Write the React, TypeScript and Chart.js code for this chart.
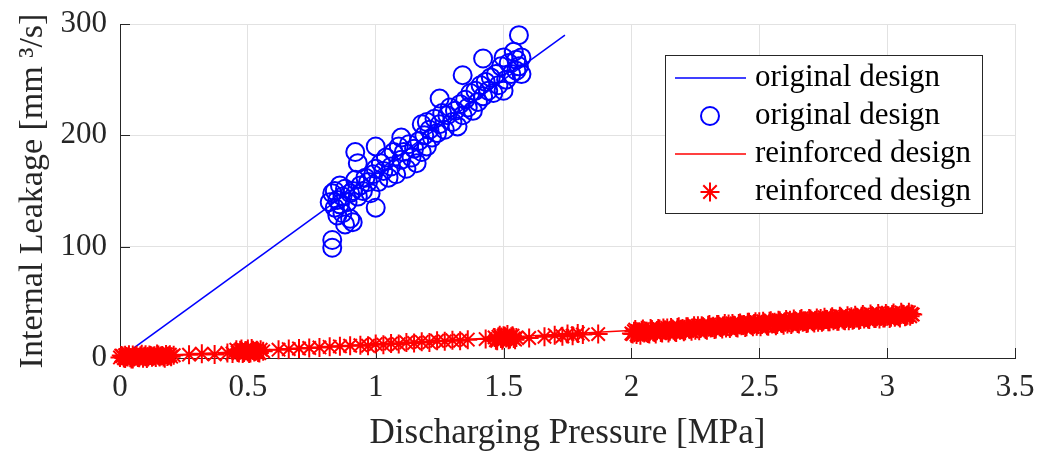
import React, { useEffect, useRef } from "react";
import { Chart, registerables } from "chart.js";
Chart.register(...registerables);

// ---------- data ----------
const xTickValues = [0, 0.5, 1, 1.5, 2, 2.5, 3, 3.5];
const yTickValues = [0, 100, 200, 300];

const legendLabels = ["original design", "original design", "reinforced design", "reinforced design"];
const xTitle = "Discharging Pressure [MPa]";
const yTitle = "Internal Leakage [mm \u00B3/s]";

const blueLineX = [0, 1.74];
const blueLineY = [0, 290];

const blueX = [
  0.82, 0.83, 0.84, 0.84, 0.85, 0.85, 0.86, 0.86, 0.87, 0.87, 0.88, 0.88, 0.89, 0.9, 0.9, 0.91, 0.91,
  0.92, 0.92, 0.93, 0.93, 0.94, 0.95, 0.96, 0.97, 0.98, 0.99, 1.0, 1.0, 1.0, 1.01, 1.02, 1.03, 1.04,
  1.05, 1.06, 1.07, 1.08, 1.09, 1.1, 1.1, 1.11, 1.12, 1.13, 1.14, 1.15, 1.16, 1.17, 1.18, 1.18, 1.19,
  1.2, 1.2, 1.21, 1.22, 1.23, 1.24, 1.25, 1.25, 1.26, 1.27, 1.28, 1.29, 1.3, 1.31, 1.32, 1.33, 1.34,
  1.34, 1.35, 1.36, 1.37, 1.38, 1.39, 1.4, 1.41, 1.42, 1.42, 1.43, 1.44, 1.45, 1.46, 1.47, 1.48, 1.49,
  1.5, 1.5, 1.51, 1.52, 1.53, 1.54, 1.55, 1.55, 1.56, 1.56, 1.57, 1.57, 0.83, 0.83,
];
const blueY = [
  140, 148, 135, 150, 142, 128, 155, 138, 145, 130, 152, 120, 140, 148, 125, 150, 122,
  185, 160, 145, 175, 155, 150, 162, 158, 148, 165, 135, 190, 170, 158, 175, 168, 180,
  162, 172, 185, 165, 190, 178, 198, 185, 170, 192, 180, 188, 175, 195, 210, 185, 200,
  212, 190, 205, 198, 215, 202, 233, 210, 220, 205, 218, 225, 212, 222, 208, 228, 254,
  218, 232, 225, 238, 222, 240, 230, 245, 269, 235, 248, 240, 252, 238, 255, 245, 262,
  240, 270, 250, 265, 255, 275, 258, 268, 290, 262, 255, 270, 99, 106,
];

const redLineX = [0, 3.1];
const redLineY = [0, 38.3];

const redX = [
  0.0, 0.01, 0.02, 0.02, 0.03, 0.04, 0.05, 0.05, 0.06, 0.07, 0.08, 0.09, 0.1, 0.1, 0.11, 0.12, 0.13,
  0.14, 0.15, 0.16, 0.17, 0.18, 0.19, 0.2, 0.21,
  0.005, 0.015, 0.025, 0.035, 0.045, 0.055, 0.065, 0.075, 0.085, 0.095,
  0.105, 0.115, 0.125, 0.135, 0.145, 0.155, 0.165, 0.175, 0.185, 0.195,
  0.27, 0.32, 0.37, 0.42, 0.44,
  0.46, 0.47, 0.48, 0.49, 0.5, 0.5, 0.51, 0.52, 0.53, 0.54, 0.55, 0.56,
  0.455, 0.465, 0.475, 0.485, 0.495, 0.505, 0.515, 0.525, 0.535, 0.545,
  0.62, 0.66, 0.7, 0.74, 0.78, 0.82, 0.86, 0.9, 0.94, 0.97, 1.0, 1.03, 1.06, 1.09, 1.12, 1.15, 1.18,
  1.21, 1.24, 1.27, 1.3, 1.33, 1.36,
  1.43, 1.47, 1.48, 1.49, 1.5, 1.51, 1.52, 1.53, 1.54, 1.55,
  1.465, 1.475, 1.485, 1.495, 1.505, 1.515, 1.525, 1.535, 1.545,
  1.6, 1.66, 1.7, 1.73, 1.75, 1.77, 1.79, 1.81, 1.87,
  2.0, 2.01, 2.02, 2.03, 2.04, 2.05, 2.06, 2.07, 2.08, 2.09, 2.1, 2.11, 2.12, 2.13, 2.14, 2.15, 2.16,
  2.17, 2.18, 2.19, 2.2, 2.21, 2.22, 2.23, 2.24, 2.25, 2.26, 2.27, 2.28, 2.29, 2.3, 2.31, 2.32, 2.33,
  2.34, 2.35, 2.36, 2.37, 2.38, 2.39, 2.4, 2.41, 2.42, 2.43, 2.44, 2.45, 2.46, 2.47, 2.48, 2.49, 2.5,
  2.51, 2.52, 2.53, 2.54, 2.55, 2.56, 2.57, 2.58, 2.59, 2.6, 2.61, 2.62, 2.63, 2.64, 2.65, 2.66, 2.67,
  2.68, 2.69, 2.7, 2.71, 2.72, 2.73, 2.74, 2.75, 2.76, 2.77, 2.78, 2.79, 2.8, 2.81, 2.82, 2.83, 2.84,
  2.85, 2.86, 2.87, 2.88, 2.89, 2.9, 2.91, 2.92, 2.93, 2.94, 2.95, 2.96, 2.97, 2.98, 2.99, 3.0, 3.01,
  3.02, 3.03, 3.04, 3.05, 3.06, 3.07, 3.08, 3.09, 3.1,
  2.005, 2.015, 2.025, 2.035, 2.045, 2.055, 2.065, 2.075, 2.085, 2.095,
  2.105, 2.115, 2.125, 2.135, 2.145, 2.155, 2.165, 2.175, 2.185, 2.195,
  2.205, 2.215, 2.225, 2.235, 2.245, 2.255, 2.265, 2.275, 2.285, 2.295,
  2.305, 2.315, 2.325, 2.335, 2.345, 2.355, 2.365, 2.375, 2.385, 2.395,
  2.405, 2.415, 2.425, 2.435, 2.445, 2.455, 2.465, 2.475, 2.485, 2.495,
  2.505, 2.515, 2.525, 2.535, 2.545, 2.555, 2.565, 2.575, 2.585, 2.595,
  2.605, 2.615, 2.625, 2.635, 2.645, 2.655, 2.665, 2.675, 2.685, 2.695,
  2.705, 2.715, 2.725, 2.735, 2.745, 2.755, 2.765, 2.775, 2.785, 2.795,
  2.805, 2.815, 2.825, 2.835, 2.845, 2.855, 2.865, 2.875, 2.885, 2.895,
  2.905, 2.915, 2.925, 2.935, 2.945, 2.955, 2.965, 2.975, 2.985, 2.995,
  3.005, 3.015, 3.025, 3.035, 3.045, 3.055, 3.065, 3.075, 3.085, 3.095,
];
const redY = [
  0.5, 1.8, -0.5, 2.5, 1.0, 0.2, 2.8, -1.0, 1.5, 0.5, 2.0, -0.3, 1.2, 3.0, 0.8, 2.2, 1.5,
  0.5, 2.6, 1.8, 1.0, 3.2, 2.0, 1.2, 2.5,
  2.2, 0.0, 1.4, 3.0, -0.8, 1.0, 2.4, 0.2, 3.4, 1.6,
  -0.4, 2.8, 0.6, 2.0, 3.6, 0.8, 2.2, -0.2, 1.4, 3.0,
  3.0, 3.8, 3.2, 4.5, 4.0,
  5, 7, 4, 6.5, 5.5, 8, 4.5, 7, 6, 5, 7.5, 6,
  7.5, 4.5, 8, 5, 6.5, 4, 8.5, 5.5, 7, 4.5,
  7.5, 8, 8.5, 9, 9.5, 10, 10.5, 11, 11.5, 11, 12.5, 12, 13, 12.5, 14, 13.5, 14.5,
  14, 15.5, 15, 16, 15.5, 16.5,
  17, 16, 19, 17.5, 20, 18, 16.5, 19, 17.5, 18.5,
  18.5, 15.5, 20.5, 16, 19.5, 21, 17, 20, 16.5,
  18, 19, 20.5, 19.5, 21.5, 20, 22, 21, 21.5,
  22, 24, 21, 23.5, 25, 22.5, 24, 21.5, 25.5, 23, 24.5, 26, 22.5, 25, 27, 24, 26,
  23.5, 27.5, 25, 26.5, 24.5, 28, 26, 27, 25, 29, 26.5, 28, 25.5, 29.5, 27, 28.5, 26,
  30, 27.5, 29, 27, 30.5, 28, 29.5, 27.5, 31, 29, 30, 28, 32, 29.5, 31, 28.5, 32.5,
  30, 31.5, 29, 33, 30.5, 32, 30, 33.5, 31, 32.5, 30.5, 34, 31.5, 33, 31, 34.5, 32,
  33.5, 31.5, 35, 32.5, 34, 32, 35.5, 33, 34.5, 32.5, 36, 33.5, 35, 33, 36.5, 34, 35.5,
  33.5, 37, 34.5, 36, 34, 37.5, 35, 36.5, 34.5, 38, 35.5, 37, 35, 38.5, 36, 37.5, 35.5,
  39, 36.5, 38, 36, 39.5, 37, 38.5, 37.5, 39,
  21.5, 25.5, 23, 20.5, 26, 24, 22, 26.5, 23.5, 21.5,
  26.5, 23, 27, 24.5, 22.5, 27.5, 25, 23, 28, 25.5,
  23.5, 28, 26, 24, 29, 26.5, 24.5, 29, 27, 25,
  30, 27.5, 25.5, 30, 28, 26, 31, 28.5, 26.5, 31,
  29, 27, 31.5, 29.5, 27.5, 32, 30, 28, 32.5, 30,
  28, 33, 30.5, 28.5, 33.5, 31, 29, 34, 31.5, 29.5,
  34.5, 32, 30, 35, 32.5, 30.5, 35.5, 33, 31, 35.5,
  33.5, 31.5, 36, 34, 32, 36.5, 34.5, 32.5, 37, 35,
  33, 37.5, 35, 33.5, 38, 35.5, 34, 38.5, 36, 34.5,
  39, 36.5, 35, 39.5, 37, 35.5, 40, 37.5, 36, 40,
  38, 36.5, 40.5, 38.5, 37, 41, 39, 37.5, 41, 39.5,
];

// ---------- styles ----------
const BLUE = "#0000ff";
const RED = "#ff0000";
const AXIS = "#262626";
const GRID = "#e2e2e2";
const FONT = "'Liberation Serif', 'Times New Roman', serif";

const toPts = (xs: number[], ys: number[]) => xs.map((x, i) => ({ x, y: ys[i] }));

const inwardTicks = {
  id: "inwardTicks",
  beforeDatasetsDraw(chart: any) {
    const { ctx, chartArea, scales } = chart;
    ctx.save();
    ctx.strokeStyle = AXIS;
    ctx.lineWidth = 1;
    ctx.beginPath();
    xTickValues.forEach((v) => {
      const px = Math.round(scales.x.getPixelForValue(v)) + 0.5;
      ctx.moveTo(px, chartArea.bottom);
      ctx.lineTo(px, chartArea.bottom - 10);
    });
    yTickValues.forEach((v) => {
      const py = Math.round(scales.y.getPixelForValue(v)) + 0.5;
      ctx.moveTo(chartArea.left, py);
      ctx.lineTo(chartArea.left + 10, py);
    });
    ctx.stroke();
    ctx.restore();
  },
};

function drawStar(ctx: CanvasRenderingContext2D, x: number, y: number, r: number) {
  ctx.beginPath();
  for (let k = 0; k < 4; k++) {
    const a = (k * Math.PI) / 4;
    ctx.moveTo(x - r * Math.cos(a), y - r * Math.sin(a));
    ctx.lineTo(x + r * Math.cos(a), y + r * Math.sin(a));
  }
  ctx.stroke();
}

const boxLegend = {
  id: "boxLegend",
  afterDraw(chart: any) {
    const { ctx } = chart;
    const left = 665, top = 55, w = 317, h = 158;
    ctx.save();
    ctx.fillStyle = "#ffffff";
    ctx.fillRect(left, top, w, h);
    ctx.strokeStyle = AXIS;
    ctx.lineWidth = 1;
    ctx.strokeRect(left + 0.5, top + 0.5, w, h);
    const rows = [78, 116, 154, 192];
    const kinds = ["line", "circle", "line", "star"];
    const colors = [BLUE, BLUE, RED, RED];
    rows.forEach((ry, i) => {
      ctx.strokeStyle = colors[i];
      ctx.lineWidth = kinds[i] === "line" ? 1.5 : 2;
      if (kinds[i] === "line") {
        ctx.beginPath();
        ctx.moveTo(675, ry);
        ctx.lineTo(746, ry);
        ctx.stroke();
      } else if (kinds[i] === "circle") {
        ctx.beginPath();
        ctx.arc(710, ry, 9, 0, Math.PI * 2);
        ctx.stroke();
      } else {
        drawStar(ctx, 710, ry, 9.5);
      }
      ctx.fillStyle = "#000000";
      ctx.font = `31px ${FONT}`;
      ctx.textBaseline = "middle";
      ctx.textAlign = "left";
      ctx.fillText(legendLabels[i], 755, ry);
    });
    ctx.restore();
  },
};

export default function App() {
  const ref = useRef<HTMLCanvasElement>(null);
  useEffect(() => {
    const canvas = ref.current;
    if (!canvas) return;
    const chart = new Chart(canvas, {
      type: "scatter",
      data: {
        datasets: [
          {
            label: legendLabels[0],
            data: toPts(blueLineX, blueLineY),
            showLine: true,
            borderColor: BLUE,
            borderWidth: 1.5,
            pointRadius: 0,
            order: 3,
          },
          {
            label: legendLabels[1],
            data: toPts(blueX, blueY),
            showLine: false,
            pointStyle: "circle",
            pointRadius: 9,
            pointBorderWidth: 2,
            pointBorderColor: BLUE,
            pointBackgroundColor: "rgba(0,0,0,0)",
            clip: false,
            order: 2,
          },
          {
            label: legendLabels[2],
            data: toPts(redLineX, redLineY),
            showLine: true,
            borderColor: RED,
            borderWidth: 1.5,
            pointRadius: 0,
            order: 1,
          },
          {
            label: legendLabels[3],
            data: toPts(redX, redY),
            showLine: false,
            pointStyle: "star",
            pointRadius: 9.5,
            pointBorderWidth: 2,
            pointBorderColor: RED,
            pointBackgroundColor: RED,
            clip: false,
            order: 0,
          },
        ],
      },
      options: {
        responsive: false,
        animation: false,
        events: [],
        layout: { padding: { top: 24, right: 23, left: 0, bottom: 0 } },
        plugins: { legend: { display: false }, tooltip: { enabled: false } },
        scales: {
          x: {
            type: "linear",
            min: 0,
            max: 3.5,
            afterFit: (s: any) => {
              s.height = 95;
              s.paddingLeft = 0;
              s.paddingRight = 0;
            },
            afterBuildTicks: (s: any) => {
              s.ticks = xTickValues.map((v) => ({ value: v }));
            },
            ticks: {
              font: { family: FONT, size: 31 },
              color: AXIS,
              padding: 11,
              maxRotation: 0,
              autoSkip: false,
              callback: (v: any) => String(v),
            },
            grid: { color: GRID, lineWidth: 1, drawTicks: false },
            border: { display: true, color: AXIS, width: 1 },
            title: {
              display: true,
              text: xTitle,
              color: AXIS,
              font: { family: FONT, size: 35, lineHeight: 1 },
              padding: { top: 0, bottom: 1.5 },
            },
          },
          y: {
            type: "linear",
            min: 0,
            max: 300,
            afterFit: (s: any) => {
              s.width = 120;
              s.paddingTop = 0;
              s.paddingBottom = 0;
            },
            afterBuildTicks: (s: any) => {
              s.ticks = yTickValues.map((v) => ({ value: v }));
            },
            ticks: {
              font: { family: FONT, size: 31 },
              color: AXIS,
              padding: 13,
              autoSkip: false,
              callback: (v: any) => String(v),
            },
            grid: { color: GRID, lineWidth: 1, drawTicks: false },
            border: { display: true, color: AXIS, width: 1 },
            title: {
              display: true,
              text: yTitle,
              color: AXIS,
              font: { family: FONT, size: 34, lineHeight: 1 },
              padding: { top: 16, bottom: 0 },
            },
          },
        },
      },
      plugins: [inwardTicks, boxLegend],
    });
    return () => chart.destroy();
  }, []);
  return (
    <div style={{ position: "absolute", left: 0, top: 0, width: 1038, height: 453, background: "#ffffff" }}>
      <canvas ref={ref} width={1038} height={453} style={{ display: "block" }} />
    </div>
  );
}
